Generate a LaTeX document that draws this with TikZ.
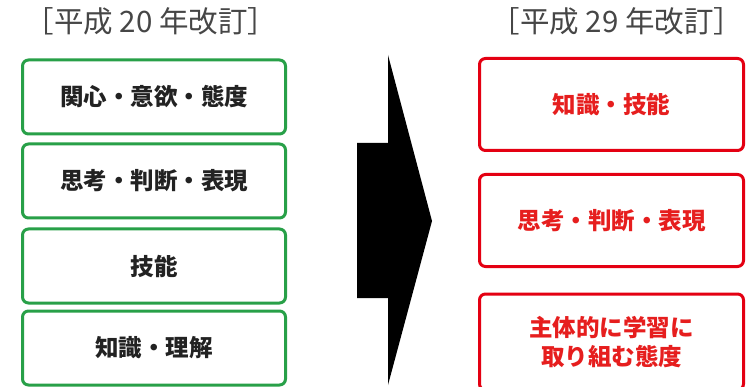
\documentclass[tikz,border=0pt]{standalone}
\usepackage{fontspec}
\newfontfamily\cjk{Noto Sans CJK JP}
\definecolor{boxgreen}{RGB}{40,160,72}
\definecolor{boxred}{RGB}{228,0,18}
\definecolor{txtred}{RGB}{230,30,30}
\definecolor{txtdark}{RGB}{34,34,34}
\definecolor{titlegray}{RGB}{70,70,70}
\tikzset{
  oldbox/.style={draw=boxgreen, line width=3pt, rounded corners=6pt, minimum width=263pt, minimum height=74pt, inner sep=0pt, fill=white,
    font=\cjk\bfseries\fontsize{23.5}{29}\selectfont, text=txtdark, align=center},
  newbox/.style={draw=boxred, line width=3pt, rounded corners=6pt, minimum width=264pt, minimum height=92pt, inner sep=0pt, fill=white,
    font=\cjk\bfseries\fontsize{23.5}{29}\selectfont, text=txtred, align=center},
  titletext/.style={font=\cjk\fontsize{29.5}{34}\selectfont, text=titlegray, inner sep=0pt}
}
\begin{document}
\begin{tikzpicture}[x=1pt,y=-1pt]
\useasboundingbox (0,0) rectangle (746,387);
\clip (0,0) rectangle (746,387);
\fill[white] (0,0) rectangle (746,387);
% titles
\node[titletext] (t1) at (151,21) {［平成 20 年改訂］};
\node[titletext] (t2) at (617,21) {［平成 29 年改訂］};
% old boxes
\node[oldbox] (o1) at (154,97) {関心・意欲・態度};
\node[oldbox] (o2) at (154,181) {思考・判断・表現};
\node[oldbox] (o3) at (154,266) {技能};
\node[oldbox] (o4) at (154,348) {知識・理解};
% new boxes
\node[newbox] (n1) at (611.5,104.5) {知識・技能};
\node[newbox] (n2) at (611.5,220.5) {思考・判断・表現};
\node[newbox, minimum height=96pt] (n3) at (611.5,342) {主体的に学習に\\取り組む態度};
% arrow
\fill[black] (388,55) -- (432,221) -- (388,385) -- (388,298) -- (357,298) -- (357,143) -- (388,143) -- cycle;
\end{tikzpicture}
\end{document}
